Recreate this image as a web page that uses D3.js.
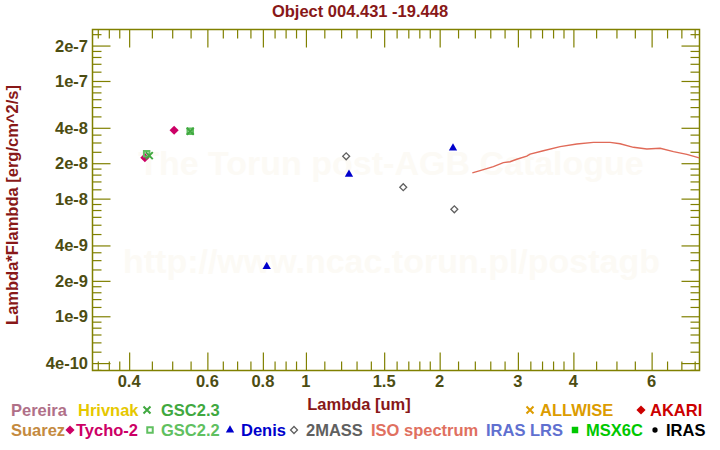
<!DOCTYPE html>
<html><head><meta charset="utf-8">
<script src="https://cdn.jsdelivr.net/npm/d3@7"></script>
<style>body{margin:0;background:#fff}svg{display:block}text{font-family:"Liberation Sans",Arial,sans-serif;font-weight:bold}</style>
</head><body>
<script>
// ---- data ----
const tychoX = [0.434, 0.505];
const tychoY = [2.23e-8, 3.81e-8];
const gsc23X = [0.444, 0.549];
const gsc23Y = [2.32e-8, 3.74e-8];
const gsc22X = [0.438, 0.549];
const gsc22Y = [2.41e-8, 3.74e-8];
const denisX = [0.816, 1.250, 2.143];
const denisY = [2.64e-9, 1.61e-8, 2.69e-8];
const tmassX = [1.232, 1.656, 2.158];
const tmassY = [2.29e-8, 1.25e-8, 8.12e-9];
const isoX = [2.369, 2.466, 2.642, 2.782, 2.880, 2.983, 3.141, 3.196, 3.423, 3.734, 4.071, 4.437, 4.838, 5.096, 5.461, 5.853, 6.271, 6.720, 7.202, 7.677];
const isoY = [1.656e-8, 1.728e-8, 1.869e-8, 2.021e-8, 2.06e-8, 2.16e-8, 2.30e-8, 2.39e-8, 2.55e-8, 2.77e-8, 2.91e-8, 3.01e-8, 3.01e-8, 2.93e-8, 2.73e-8, 2.64e-8, 2.68e-8, 2.51e-8, 2.38e-8, 2.22e-8];

const xMajor = [0.4, 0.6, 0.8, 1, 1.5, 2, 3, 4, 6];
const xMajorLabels = ["0.4", "0.6", "0.8", "1", "1.5", "2", "3", "4", "6"];
const xMinor = [0.34, 0.36, 0.38, 0.45, 0.5, 0.55, 0.65, 0.7, 0.75, 0.85, 0.9, 0.95, 1.1, 1.2, 1.3, 1.4, 1.6, 1.7, 1.8, 1.9, 2.2, 2.4, 2.6, 2.8, 3.2, 3.4, 3.6, 3.8, 4.5, 5, 5.5, 6.5, 7, 7.5];
const yMajor = [2e-7, 1e-7, 4e-8, 2e-8, 1e-8, 4e-9, 2e-9, 1e-9, 4e-10];
const yMajorLabels = ["2e-7", "1e-7", "4e-8", "2e-8", "1e-8", "4e-9", "2e-9", "1e-9", "4e-10"];
const yMinor = [2.5e-7, 1.8e-7, 1.6e-7, 1.4e-7, 1.2e-7, 9e-8, 8e-8, 7e-8, 6e-8, 5e-8, 3.5e-8, 3e-8, 2.5e-8, 1.8e-8, 1.6e-8, 1.4e-8, 1.2e-8, 9e-9, 8e-9, 7e-9, 6e-9, 5e-9, 3.5e-9, 3e-9, 2.5e-9, 1.8e-9, 1.6e-9, 1.4e-9, 1.2e-9, 9e-10, 8e-10, 7e-10, 6e-10, 5e-10, 3.5e-10];

const legendRow1 = [
  {label: "Pereira", color: "#b07088", sym: null, tx: 11},
  {label: "Hrivnak", color: "#e6c800", sym: null, tx: 78},
  {label: "GSC2.3", color: "#40a840", sym: "x", sx: 147, tx: 161},
  {label: "ALLWISE", color: "#dc9c00", sym: "x", sx: 530, tx: 540},
  {label: "AKARI", color: "#cc0000", sym: "diamond", sx: 641, tx: 650}
];
const legendRow2 = [
  {label: "Suarez", color: "#c48a40", sym: null, tx: 11},
  {label: "Tycho-2", color: "#cc0066", sym: "diamond", sx: 70, tx: 76},
  {label: "GSC2.2", color: "#60c060", sym: "osquare", sx: 150, tx: 161},
  {label: "Denis", color: "#0000cc", sym: "triangle", sx: 230, tx: 241},
  {label: "2MASS", color: "#606060", sym: "odiamond", sx: 294, tx: 306},
  {label: "ISO spectrum", color: "#e07060", sym: null, tx: 371},
  {label: "IRAS LRS", color: "#6070d0", sym: null, tx: 486},
  {label: "MSX6C", color: "#00c800", sym: "square", sx: 575, tx: 586},
  {label: "IRAS", color: "#000000", sym: "circle", sx: 655, tx: 666}
];

// ---- chart ----
const W = 720, H = 450;
const L = 92.5, R = 699.5, T = 29.5, B = 370.5;
const axisColor = "#808000", tickLabelColor = "#4d4d12", titleColor = "#881818";
const FS = 16.5;

const svg = d3.select("body").append("svg").attr("width", W).attr("height", H);

const x = d3.scaleLog().domain([0.3308, 7.69]).range([L, R]);
const y = d3.scaleLog().domain([3.46e-10, 2.739e-7]).range([B, T]);

// watermark
svg.append("text").attr("x", 391).attr("y", 175).attr("text-anchor", "middle")
  .style("font-size", "34px").attr("fill", "#fcfaf5").text("The Torun post-AGB Catalogue");
svg.append("text").attr("x", 391.5).attr("y", 273).attr("text-anchor", "middle")
  .style("font-size", "34px").attr("fill", "#fcfaf5").text("http://www.ncac.torun.pl/postagb");

// title
svg.append("text").attr("x", 360).attr("y", 17).attr("text-anchor", "middle")
  .style("font-size", FS + "px").attr("fill", titleColor).text("Object 004.431 -19.448");

// axes frame with ticks
const g = svg.append("g");
function xAxes(vals, len) {
  const bottom = d3.axisBottom(x).tickValues(vals).tickSize(-len).tickFormat("");
  const top = d3.axisTop(x).tickValues(vals).tickSize(-len).tickFormat("");
  g.append("g").attr("transform", `translate(0,${B})`).call(bottom);
  g.append("g").attr("transform", `translate(0,${T})`).call(top);
}
function yAxes(vals, len) {
  const left = d3.axisLeft(y).tickValues(vals).tickSize(-len).tickFormat("");
  const right = d3.axisRight(y).tickValues(vals).tickSize(-len).tickFormat("");
  g.append("g").attr("transform", `translate(${L},0)`).call(left);
  g.append("g").attr("transform", `translate(${R},0)`).call(right);
}
xAxes(xMinor, 9); xAxes(xMajor, 18);
yAxes(yMinor, 9); yAxes(yMajor, 18);
g.selectAll(".domain").remove();
g.selectAll("line").attr("stroke", axisColor).attr("stroke-width", 1.2);
g.append("rect").attr("x", L).attr("y", T).attr("width", R - L).attr("height", B - T)
  .attr("fill", "none").attr("stroke", axisColor).attr("stroke-width", 1.5);

// tick labels
svg.append("g").selectAll("text").data(xMajor).join("text")
  .attr("x", d => x(d)).attr("y", 387).attr("text-anchor", "middle")
  .style("font-size", FS + "px").attr("fill", tickLabelColor)
  .text((d, i) => xMajorLabels[i]);
svg.append("g").selectAll("text").data(yMajor).join("text")
  .attr("x", 88).attr("y", d => y(d) + 6).attr("text-anchor", "end")
  .style("font-size", FS + "px").attr("fill", tickLabelColor)
  .text((d, i) => yMajorLabels[i]);

// axis titles
svg.append("text").attr("x", 359).attr("y", 410).attr("text-anchor", "middle")
  .style("font-size", FS + "px").attr("fill", titleColor).text("Lambda [um]");
svg.append("text").attr("transform", "translate(18,205) rotate(-90)").attr("text-anchor", "middle")
  .style("font-size", FS + "px").attr("fill", titleColor).text("Lambda*Flambda [erg/cm^2/s]");

// symbols
function drawSym(sel, type, cx, cy, color) {
  if (type === "diamond") {
    sel.append("path").attr("d", d3.symbol(d3.symbolSquare, 42)()).attr("fill", color)
      .attr("transform", `translate(${cx},${cy}) rotate(45)`);
  } else if (type === "odiamond") {
    sel.append("path").attr("d", d3.symbol(d3.symbolSquare, 24)()).attr("fill", "none")
      .attr("stroke", color).attr("stroke-width", 1.3)
      .attr("transform", `translate(${cx},${cy}) rotate(45)`);
  } else if (type === "triangle") {
    sel.append("path").attr("d", d3.symbol(d3.symbolTriangle, 30)()).attr("fill", color)
      .attr("transform", `translate(${cx},${cy})`);
  } else if (type === "square") {
    sel.append("path").attr("d", d3.symbol(d3.symbolSquare, 42)()).attr("fill", color)
      .attr("transform", `translate(${cx},${cy})`);
  } else if (type === "osquare") {
    sel.append("path").attr("d", d3.symbol(d3.symbolSquare, 30)()).attr("fill", "none")
      .attr("stroke", color).attr("stroke-width", 2)
      .attr("transform", `translate(${cx},${cy})`);
  } else if (type === "x") {
    const s = 3.5;
    sel.append("path").attr("d", `M${-s},${-s}L${s},${s}M${-s},${s}L${s},${-s}`)
      .attr("stroke", color).attr("stroke-width", 2).attr("fill", "none")
      .attr("transform", `translate(${cx},${cy})`);
  } else if (type === "circle") {
    sel.append("path").attr("d", d3.symbol(d3.symbolCircle, 22)()).attr("fill", color)
      .attr("transform", `translate(${cx},${cy})`);
  }
}

const plot = svg.append("g");
// ISO spectrum
plot.append("path").datum(isoX.map((v, i) => [v, isoY[i]]))
  .attr("d", d3.line().x(d => x(d[0])).y(d => y(d[1])))
  .attr("fill", "none").attr("stroke", "#e06a58").attr("stroke-width", 1.4);

tychoX.forEach((v, i) => drawSym(plot, "diamond", x(v), y(tychoY[i]), "#cc0066"));
gsc22X.forEach((v, i) => drawSym(plot, "osquare", x(v), y(gsc22Y[i]), "#60c060"));
gsc23X.forEach((v, i) => drawSym(plot, "x", x(v), y(gsc23Y[i]), "#40a840"));
denisX.forEach((v, i) => drawSym(plot, "triangle", x(v), y(denisY[i]), "#0000cc"));
tmassX.forEach((v, i) => drawSym(plot, "odiamond", x(v), y(tmassY[i]), "#606060"));

// legend
const leg = svg.append("g");
function drawLegendRow(items, by) {
  items.forEach(it => {
    if (it.sym) drawSym(leg, it.sym, it.sx, by - 6, it.color);
    leg.append("text").attr("x", it.tx).attr("y", by).style("font-size", FS + "px")
      .attr("fill", it.color).text(it.label);
  });
}
drawLegendRow(legendRow1, 416);
drawLegendRow(legendRow2, 436);
</script>
</body></html>
